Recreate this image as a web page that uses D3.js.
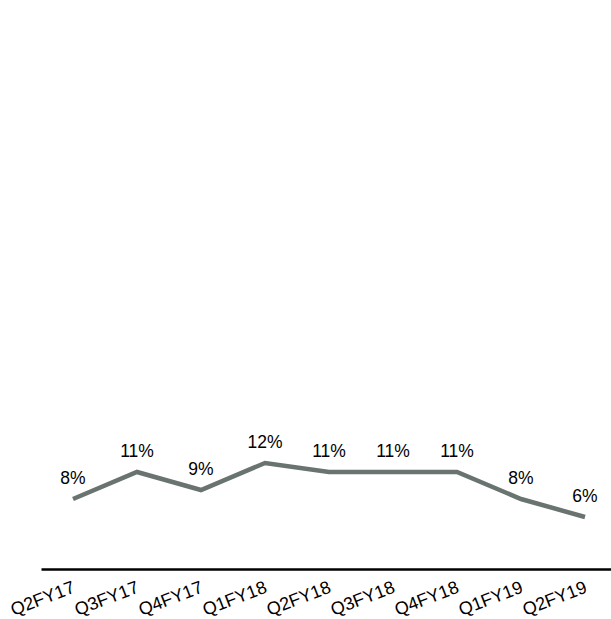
<!DOCTYPE html>
<html>
<head>
<meta charset="utf-8">
<script src="https://cdn.jsdelivr.net/npm/d3@7"></script>
<style>
  html, body { margin: 0; padding: 0; background: #fff; }
  svg { display: block; }
  text { font-family: "Liberation Sans", Arial, sans-serif; fill: #000; }
</style>
</head>
<body>
<svg id="chart" width="611" height="619"></svg>
<script>
// Quarterly growth, in percent
const quarters = ["Q2FY17", "Q3FY17", "Q4FY17", "Q1FY18", "Q2FY18", "Q3FY18", "Q4FY18", "Q1FY19", "Q2FY19"];
const growth = [8, 11, 9, 12, 11, 11, 11, 8, 6];

const svg = d3.select("#chart");

const x = d3.scaleBand().domain(quarters).range([41, 617]);
const y = d3.scaleLinear().domain([0, 60]).range([571, 31]);

const cx = d => x(d) + x.bandwidth() / 2;

// Baseline axis with rotated quarter labels
const axis = svg.append("g")
  .attr("transform", "translate(0,569)")
  .call(d3.axisBottom(x).tickSize(0).tickSizeOuter(0));
axis.select(".domain").attr("stroke", "#000").attr("stroke-width", 2.5);
axis.selectAll(".tick text")
  .attr("font-size", 18)
  .attr("fill", "#000")
  .attr("text-anchor", "end")
  .attr("dy", null)
  .attr("y", null)
  .attr("transform", "translate(3,23) rotate(-21)");

const pts = quarters.map((q, i) => ({ q, v: growth[i] }));

// Growth line
svg.append("path")
  .datum(pts)
  .attr("fill", "none")
  .attr("stroke", "#69736f")
  .attr("stroke-width", 4.5)
  .attr("stroke-linejoin", "miter")
  .attr("d", d3.line().x(d => cx(d.q)).y(d => y(d.v)));

// Value labels above each point
svg.append("g").selectAll("text")
  .data(pts)
  .join("text")
  .attr("x", d => cx(d.q))
  .attr("y", d => y(d.v) - 15)
  .attr("text-anchor", "middle")
  .attr("font-size", 17.5)
  .text(d => d.v + "%");
</script>
</body>
</html>
